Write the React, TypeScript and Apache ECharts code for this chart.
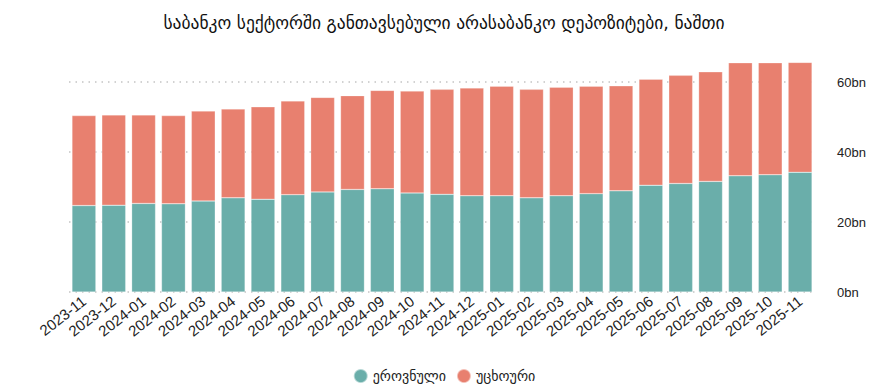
import React, { useEffect, useRef } from "react";
import * as echarts from "echarts";

const months = [
  "2023-11", "2023-12", "2024-01", "2024-02", "2024-03", "2024-04", "2024-05",
  "2024-06", "2024-07", "2024-08", "2024-09", "2024-10", "2024-11", "2024-12",
  "2025-01", "2025-02", "2025-03", "2025-04", "2025-05", "2025-06", "2025-07",
  "2025-08", "2025-09", "2025-10", "2025-11",
];

// billions GEL
const national = [
  24.7, 24.8, 25.3, 25.2, 26.0, 26.9, 26.5, 27.8, 28.6, 29.3, 29.5, 28.3, 27.9,
  27.5, 27.5, 26.9, 27.5, 28.1, 28.9, 30.5, 31.0, 31.6, 33.2, 33.5, 34.2,
];
const totals = [
  50.4, 50.6, 50.6, 50.4, 51.7, 52.3, 52.9, 54.6, 55.6, 56.1, 57.6, 57.4, 57.9,
  58.3, 58.8, 57.9, 58.5, 58.8, 58.9, 60.8, 61.9, 62.9, 65.5, 65.5, 65.6,
];
const foreign = totals.map((t, i) => +(t - national[i]).toFixed(1));

const yTicks = [0, 20, 40, 60];
const seriesNames = ["ეროვნული", "უცხოური"];
const titleText = "საბანკო სექტორში განთავსებული არასაბანკო დეპოზიტები, ნაშთი";

const FONT = "'Liberation Sans', 'DejaVu Sans', Arial, sans-serif";

export default function App() {
  const ref = useRef<HTMLDivElement>(null);
  useEffect(() => {
    if (!ref.current) return;
    const chart = echarts.init(ref.current, null, { renderer: "svg" });
    chart.setOption({
      animation: false,
      color: ["#6aaeaa", "#e8806f"],
      title: {
        text: titleText,
        left: "center",
        top: 9,
        textStyle: {
          fontFamily: "'DejaVu Sans', sans-serif",
          fontSize: 17.5,
          fontWeight: "normal",
          color: "#111",
        },
      },
      legend: {
        top: 363,
        left: "center",
        icon: "circle",
        itemWidth: 14,
        itemHeight: 14,
        itemGap: 10,
        textStyle: { fontFamily: "'DejaVu Sans', sans-serif", fontSize: 14, color: "#222" },
        data: seriesNames,
      },
      grid: { left: 69, right: 73, top: 61, bottom: 99 },
      xAxis: {
        type: "category",
        data: months,
        axisLine: { show: false },
        axisTick: { show: false },
        axisLabel: {
          rotate: 38,
          margin: 7,
          interval: 0,
          fontFamily: FONT,
          fontSize: 15,
          color: "#222",
        },
      },
      yAxis: {
        type: "value",
        position: "right",
        min: 0,
        max: 66,
        interval: 20,
        axisLine: { show: false },
        axisTick: { show: false },
        splitLine: { show: false },
        axisLabel: {
          showMaxLabel: false,
          margin: 22,
          fontFamily: FONT,
          fontSize: 13,
          color: "#222",
          formatter: (v: number) => (v % 20 === 0 ? `${v}bn` : ""),
        },
      },
      series: [
        {
          name: seriesNames[0],
          type: "bar",
          stack: "total",
          barCategoryGap: "20%",
          data: national,
          itemStyle: { borderColor: "rgba(255,255,255,0.5)", borderWidth: 0.5 },
          markLine: {
            silent: true,
            symbol: "none",
            label: { show: false },
            lineStyle: { color: "#c4c4c4", type: [1.5, 5], width: 1.5 },
            z: 0,
            data: yTicks.map((v) => ({ yAxis: v })),
          },
        },
        {
          name: seriesNames[1],
          type: "bar",
          stack: "total",
          barCategoryGap: "20%",
          data: foreign,
          itemStyle: { borderColor: "rgba(255,255,255,0.5)", borderWidth: 0.5 },
        },
      ],
    });
    return () => chart.dispose();
  }, []);
  return (
    <div
      ref={ref}
      style={{ position: "absolute", left: 0, top: 0, width: 888, height: 391 }}
    />
  );
}
